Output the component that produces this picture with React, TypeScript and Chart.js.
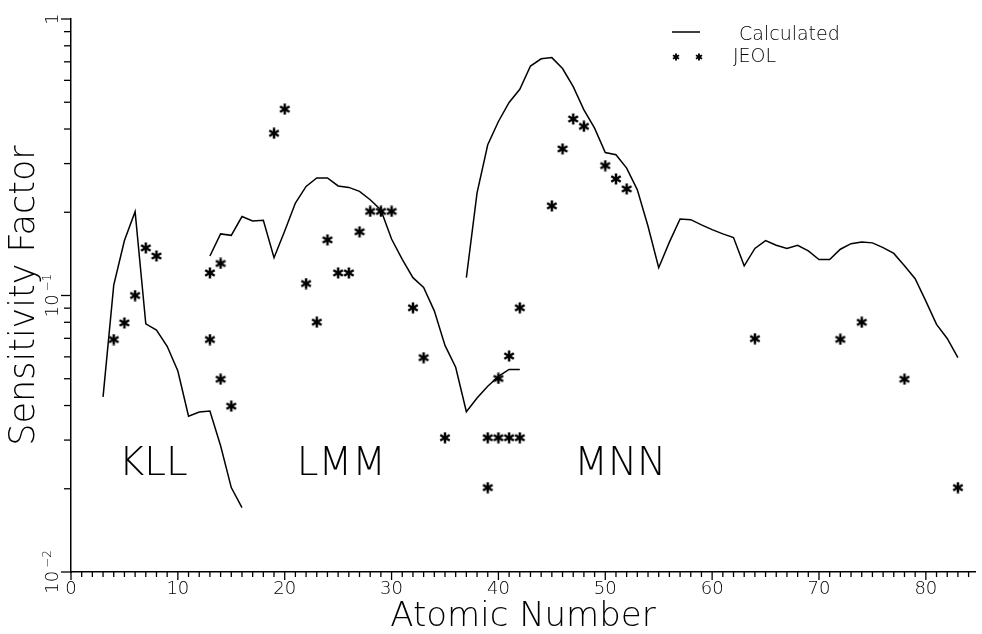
import React, { useEffect, useRef } from 'react';
import { Chart, registerables } from 'chart.js';

Chart.register(...registerables);

const FONT = "'DejaVu Sans', 'Liberation Sans', sans-serif";
const WEIGHT = '200';

// ---- Calculated sensitivity factors (three Auger series) ----
const kllZ = [3, 4, 5, 6, 7, 8, 9, 10, 11, 12, 13, 14, 15, 16];
const kllCalc = [0.043, 0.109, 0.158, 0.201, 0.079, 0.075, 0.0655, 0.0533, 0.0366, 0.0379, 0.0382, 0.0286, 0.0202, 0.0171];

const lmmZ = [13, 14, 15, 16, 17, 18, 19, 20, 21, 22, 23, 24, 25, 26, 27, 28, 29, 30, 31, 32, 33, 34, 35, 36, 37, 38, 39, 40, 41, 42];
const lmmCalc = [0.139, 0.167, 0.165, 0.193, 0.186, 0.187, 0.137, 0.171, 0.216, 0.248, 0.266, 0.266, 0.249, 0.246, 0.238, 0.222, 0.204, 0.16, 0.135, 0.116, 0.107, 0.088, 0.066, 0.055, 0.038, 0.0426, 0.047, 0.051, 0.054, 0.054];

const mnnZ = [37, 38, 39, 40, 41, 42, 43, 44, 45, 46, 47, 48, 49, 50, 51, 52, 53, 54, 55, 56, 57, 58, 59, 60, 61, 62, 63, 64, 65, 66, 67, 68, 69, 70, 71, 72, 73, 74, 75, 76, 77, 78, 79, 80, 81, 82, 83];
const mnnCalc = [0.116, 0.235, 0.351, 0.426, 0.499, 0.557, 0.676, 0.718, 0.725, 0.662, 0.569, 0.469, 0.403, 0.329, 0.323, 0.289, 0.241, 0.178, 0.126, 0.156, 0.189, 0.188, 0.18, 0.173, 0.167, 0.162, 0.128, 0.148, 0.158, 0.152, 0.148, 0.152, 0.145, 0.135, 0.135, 0.147, 0.154, 0.156, 0.155, 0.149, 0.142, 0.128, 0.115, 0.0954, 0.0786, 0.0699, 0.0596];

// ---- JEOL measured values ----
const jeolZ = [4, 5, 6, 7, 8, 13, 13, 14, 14, 15, 19, 20, 22, 23, 24, 25, 26, 27, 28, 29, 30, 32, 33, 35, 39, 39, 40, 40, 41, 41, 42, 42, 45, 46, 47, 48, 50, 51, 52, 64, 72, 74, 78, 83];
const jeolValues = [0.0693, 0.0796, 0.1, 0.1486, 0.139, 0.1207, 0.0693, 0.1306, 0.0498, 0.0398, 0.386, 0.472, 0.1105, 0.0801, 0.159, 0.1207, 0.1207, 0.17, 0.2014, 0.2014, 0.2014, 0.0903, 0.0596, 0.0306, 0.0306, 0.0202, 0.0306, 0.0501, 0.0306, 0.0604, 0.0306, 0.0903, 0.211, 0.339, 0.435, 0.409, 0.295, 0.264, 0.243, 0.0698, 0.0694, 0.08, 0.0498, 0.0202];

// ---- axis labels ----
const xTickValues = [0, 10, 20, 30, 40, 50, 60, 70, 80];
const yLabelValues = [0.01, 0.1, 1];
const yLabelBases = ['10', '10', '1'];
const yLabelExps = ['\u22122', '\u22121', ''];

// ---- region annotations ----
const regionNames = ['KLL', 'LMM', 'MNN'];
const regionZ = [7.7, 25.3, 51.4];
const regionLevel = [0.0245, 0.0245, 0.0245];

function makeStar(size: number, lw: number): HTMLCanvasElement {
  const c = document.createElement('canvas');
  c.width = size;
  c.height = size;
  const g = c.getContext('2d') as CanvasRenderingContext2D;
  g.strokeStyle = '#000';
  g.lineWidth = lw;
  const r = size / 2 - 0.5;
  const cx = size / 2;
  const cy = size / 2;
  [90, 30, 150].forEach((a) => {
    const rad = (a * Math.PI) / 180;
    g.beginPath();
    g.moveTo(cx + r * Math.cos(rad), cy - r * Math.sin(rad));
    g.lineTo(cx - r * Math.cos(rad), cy + r * Math.sin(rad));
    g.stroke();
  });
  return c;
}

function toPts(zs: number[], vs: number[]) {
  return zs.map((z, i) => ({ x: z, y: vs[i] }));
}

export default function App() {
  const ref = useRef<HTMLCanvasElement>(null);

  useEffect(() => {
    const canvas = ref.current;
    if (!canvas) return;
    const star = makeStar(12, 2.5);
    const legendStar = makeStar(8, 1.9);

    const lineDs = (zs: number[], vs: number[]) => ({
      type: 'line' as const,
      label: 'Calculated',
      data: toPts(zs, vs),
      borderColor: '#000',
      borderWidth: 1.5,
      pointRadius: 0,
      fill: false,
      tension: 0,
    });

    const decor = {
      id: 'decor',
      afterDraw(chart: any) {
        const { ctx, chartArea } = chart;
        const xs = chart.scales.x;
        const ys = chart.scales.y;
        ctx.save();
        ctx.strokeStyle = '#000';
        ctx.fillStyle = '#000';
        ctx.lineWidth = 1.3;
        // x tick marks
        for (let v = 0; v <= Math.floor(xs.max); v++) {
          const px = xs.getPixelForValue(v);
          const len = v % 10 === 0 ? 8 : 5;
          ctx.beginPath();
          ctx.moveTo(px, chartArea.bottom);
          ctx.lineTo(px, chartArea.bottom + len);
          ctx.stroke();
        }
        // y tick marks (log)
        const yTickVals: number[] = [];
        [0.01, 0.1].forEach((d) => {
          for (let m = 1; m <= 9; m++) yTickVals.push(m * d);
        });
        yTickVals.push(1);
        yTickVals.forEach((v) => {
          const py = ys.getPixelForValue(v);
          const lg = Math.log10(v);
          const major = Math.abs(lg - Math.round(lg)) < 1e-6;
          const len = major ? 10 : 7;
          ctx.beginPath();
          ctx.moveTo(chartArea.left, py);
          ctx.lineTo(chartArea.left - len, py);
          ctx.stroke();
        });
        // y labels, rotated, with superscript exponents
        yLabelValues.forEach((v, i) => {
          const py = ys.getPixelForValue(v);
          const base = yLabelBases[i];
          const exp = yLabelExps[i];
          ctx.save();
          ctx.translate(58, py);
          ctx.rotate(-Math.PI / 2);
          ctx.font = `${WEIGHT} 18px ${FONT}`;
          const wb = ctx.measureText(base).width;
          ctx.font = `${WEIGHT} 12px ${FONT}`;
          const we = exp ? ctx.measureText(exp).width + 3 : 0;
          const start = -(wb + we) / 2;
          ctx.textAlign = 'left';
          ctx.textBaseline = 'alphabetic';
          ctx.font = `${WEIGHT} 18px ${FONT}`;
          ctx.fillText(base, start, 0);
          if (exp) {
            ctx.font = `${WEIGHT} 12px ${FONT}`;
            ctx.fillText(exp, start + wb + 3, -7);
          }
          ctx.restore();
        });
        // region labels
        ctx.font = `${WEIGHT} 39px ${FONT}`;
        ctx.textAlign = 'center';
        ctx.textBaseline = 'middle';
        regionNames.forEach((n, i) => {
          ctx.fillText(n, xs.getPixelForValue(regionZ[i]), ys.getPixelForValue(regionLevel[i]));
        });
        // legend
        ctx.lineWidth = 1.5;
        ctx.beginPath();
        ctx.moveTo(672, 32);
        ctx.lineTo(700, 32);
        ctx.stroke();
        ctx.drawImage(legendStar, 676 - 4, 57 - 4);
        ctx.drawImage(legendStar, 699 - 4, 57 - 4);
        ctx.font = `${WEIGHT} 19px ${FONT}`;
        ctx.textAlign = 'left';
        ctx.textBaseline = 'middle';
        ctx.fillText('Calculated', 739, 35);
        ctx.fillText('JEOL', 733, 57);
        ctx.restore();
      },
    };

    const chart = new Chart(canvas, {
      type: 'line',
      data: {
        datasets: [
          lineDs(kllZ, kllCalc),
          lineDs(lmmZ, lmmCalc),
          lineDs(mnnZ, mnnCalc),
          {
            type: 'line',
            label: 'JEOL',
            data: toPts(jeolZ, jeolValues),
            showLine: false,
            pointStyle: star,
            pointRadius: 6,
            borderColor: '#000',
            backgroundColor: '#000',
          },
        ],
      } as any,
      options: {
        animation: false,
        responsive: false,
        events: [],
        layout: { padding: { top: 19, right: 0, left: 0, bottom: 0 } },
        plugins: { legend: { display: false }, tooltip: { enabled: false } },
        scales: {
          x: {
            type: 'linear',
            min: 0,
            max: 84.6,
            position: 'bottom',
            grid: { display: false, drawTicks: false },
            border: { display: true, color: '#000', width: 1.5 },
            afterBuildTicks: (s: any) => {
              s.ticks = xTickValues.map((v) => ({ value: v }));
            },
            afterFit: (s: any) => {
              s.height = 62;
            },
            ticks: {
              color: '#000',
              font: { family: FONT, size: 18, weight: WEIGHT },
              padding: 7,
              maxRotation: 0,
              autoSkip: false,
            },
            title: {
              display: true,
              text: 'Atomic Number',
              color: '#000',
              font: { family: FONT, size: 34, weight: WEIGHT, lineHeight: 1 },
              padding: { top: 0, bottom: 0 },
            },
          },
          y: {
            type: 'logarithmic',
            min: 0.01,
            max: 1,
            position: 'left',
            grid: { display: false, drawTicks: false },
            border: { display: true, color: '#000', width: 1.5 },
            ticks: { display: false },
            afterFit: (s: any) => {
              s.width = 71;
            },
            title: {
              display: true,
              text: 'Sensitivity Factor',
              color: '#000',
              font: { family: FONT, size: 35, weight: WEIGHT, lineHeight: 1 },
              padding: { top: 7, bottom: 0 },
            },
          },
        },
      } as any,
      plugins: [decor],
    });
    return () => chart.destroy();
  }, []);

  return (
    <div style={{ position: 'fixed', left: 0, top: 0, width: 982, height: 634, background: '#fff' }}>
      <canvas ref={ref} width={982} height={634} style={{ display: 'block' }} />
    </div>
  );
}
